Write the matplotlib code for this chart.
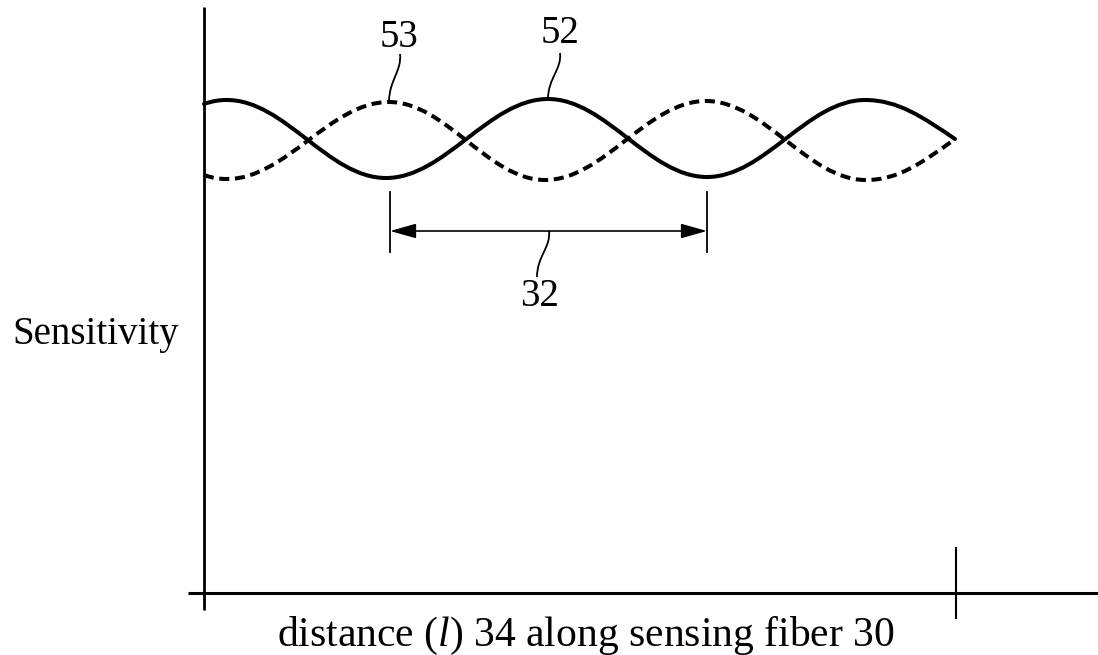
# Sensitivity along the sensing fiber: two beat curves (52 solid, 53 dashed)
import matplotlib
matplotlib.use('Agg')
import matplotlib.pyplot as plt
from matplotlib.path import Path
from matplotlib.patches import PathPatch, FancyArrowPatch

plt.rcParams['font.family'] = ['Liberation Serif', 'DejaVu Serif']
plt.rcParams['mathtext.fontset'] = 'custom'
plt.rcParams['mathtext.rm'] = 'Liberation Serif'
plt.rcParams['mathtext.it'] = 'Liberation Serif:italic'

# peaks / valleys (distance, sensitivity), arbitrary units
SolidX = [0, 2.3, 18.2, 34.4, 50.3, 66.1, 75.1]
SolidY = [48.9, 49.3, 41.5, 49.4, 41.6, 49.3, 45.4]
DashX = [0, 2.3, 18.5, 34.1, 50.2, 66.2, 75.1]
DashY = [41.8, 41.4, 49.1, 41.3, 49.2, 41.3, 45.4]

BeatStart, BeatEnd = 18.6, 50.3   # beat length 32
FiberEnd = 75.2                   # end of sensing fiber
AxisTop = 58.6

XLabel = 'distance ($l$) 34 along sensing fiber 30'
YLabel = 'Sensitivity'
# label text, position, leader (top end, bottom end)
Labels = [('53', (19.5, 54.6), (19.6, 53.9), (18.5, 49.1)),
          ('52', (35.6, 55.0), (35.6, 54.0), (34.4, 49.4)),
          ('32', (33.6, 28.7), (34.5, 36.2), (33.3, 31.6))]


def WavePath(Xs, Ys):
    # bezier pieces between the extrema, flat tangent at every peak and valley
    Slopes = [0.0] * len(Xs)
    Slopes[0] = 2 * (Ys[1] - Ys[0]) / (Xs[1] - Xs[0])
    Slopes[-1] = 1.57 * (Ys[-1] - Ys[-2]) / (Xs[-1] - Xs[-2])
    Verts = [(Xs[0], Ys[0])]
    Codes = [Path.MOVETO]
    for i in range(len(Xs) - 1):
        H = 0.364 * (Xs[i + 1] - Xs[i])
        Verts += [(Xs[i] + H, Ys[i] + Slopes[i] * H),
                  (Xs[i + 1] - H, Ys[i + 1] - Slopes[i + 1] * H),
                  (Xs[i + 1], Ys[i + 1])]
        Codes += [Path.CURVE4] * 3
    return Path(Verts, Codes)


def LeaderPath(Top, Bottom):
    # small S shaped leader line
    Dy = Top[1] - Bottom[1]
    Verts = [Top, (Top[0] + 0.2, Top[1] - 0.35 * Dy),
             (Bottom[0], Bottom[1] + 0.45 * Dy), Bottom]
    return Path(Verts, [Path.MOVETO] + [Path.CURVE4] * 3)


fig = plt.figure(figsize=(10.98, 6.55), dpi=100)
ax = fig.add_axes([0, 0, 1, 1])
ax.set_xlim(-20.4, 89.4)
ax.set_ylim(-6.2, 59.3)
ax.axis('off')

# axes of the sketch
ax.plot([0, 0], [-1.7, AxisTop], color='black', lw=2.0, solid_capstyle='butt')
ax.plot([-1.6, 89.4], [0, 0], color='black', lw=2.2, solid_capstyle='butt')
ax.plot([FiberEnd, FiberEnd], [-2.5, 4.5], color='black', lw=1.5)

# the two curves
ax.add_patch(PathPatch(WavePath(SolidX, SolidY), fill=False, color='black',
                       lw=2.9, capstyle='round'))
ax.add_patch(PathPatch(WavePath(DashX, DashY), fill=False, color='black',
                       lw=2.9, linestyle=(0, (2.5, 1.4))))

# beat length dimension
for Xv in [BeatStart, BeatEnd]:
    ax.plot([Xv, Xv], [34.1, 40.1], color='black', lw=1.3)
ax.add_patch(FancyArrowPatch((BeatStart, 36.2), (BeatEnd, 36.2),
                             arrowstyle='<|-|>,head_length=1.6,head_width=0.45',
                             mutation_scale=10, shrinkA=0, shrinkB=0,
                             color='black', lw=1.2))

# reference numerals with their leaders
for Txt, Pos, Top, Bottom in Labels:
    ax.text(Pos[0], Pos[1], Txt, fontsize=28, ha='center', va='baseline')
    ax.add_patch(PathPatch(LeaderPath(Top, Bottom), fill=False,
                           color='black', lw=1.3))

ax.text(-19.2, 24.9, YLabel, fontsize=28, ha='left', va='baseline')
ax.text(38.2, -5.3, XLabel, fontsize=30, ha='center', va='baseline')

plt.savefig('out.png', dpi=100)
